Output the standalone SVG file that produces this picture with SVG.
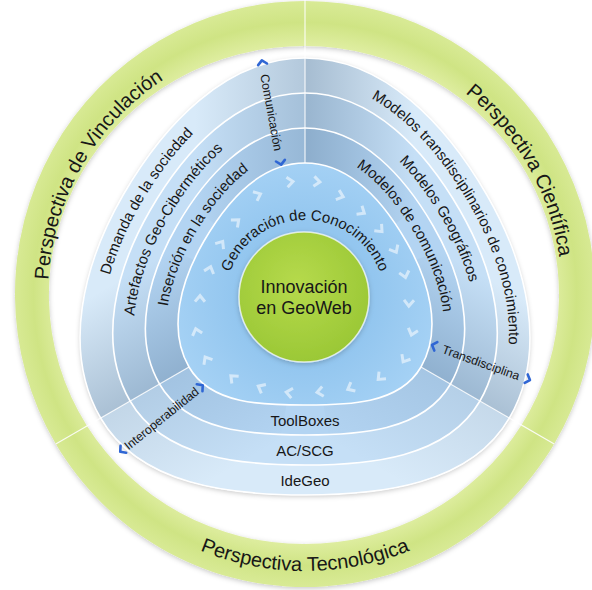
<svg xmlns="http://www.w3.org/2000/svg" width="592" height="590" viewBox="0 0 592 590">
<defs>
<style>
.t{font-family:"Liberation Sans",Arial,sans-serif;fill:#171717}
.pr{font-size:20px}
.bd{font-size:15px}
.lb{font-size:12.3px}
.cr{font-size:18px}
.dv{stroke:#fff;stroke-opacity:.85;stroke-width:1.2;fill:none}
.ah{fill:none;stroke:#2f66d4;stroke-width:2.6;stroke-linecap:round;stroke-linejoin:round}
.bs{fill:none;stroke:#fff;stroke-width:1.6}
.rg{fill:url(#gRing)}
</style>
<radialGradient id="gRing" gradientUnits="userSpaceOnUse" cx="305" cy="294" r="292">
<stop offset="0.84" stop-color="#e1efa5"/>
<stop offset="0.93" stop-color="#cfe484"/>
<stop offset="1" stop-color="#d8ea95"/>
</radialGradient>
<radialGradient id="gCore" cx="0.45" cy="0.4" r="0.6">
<stop offset="0" stop-color="#b6da4c"/>
<stop offset="1" stop-color="#9bc836"/>
</radialGradient>
<radialGradient id="gIn" gradientUnits="userSpaceOnUse" cx="305" cy="295" r="140">
<stop offset="0.5" stop-color="#93c6ef"/>
<stop offset="1" stop-color="#a6d2f5"/>
</radialGradient>
<linearGradient id="gTop" gradientUnits="userSpaceOnUse" x1="195" y1="0" x2="415" y2="0">
<stop offset="0" stop-color="#3f5f7f" stop-opacity="0"/>
<stop offset="0.5" stop-color="#3f5f7f" stop-opacity="0.24"/>
<stop offset="0.5" stop-color="#3f5f7f" stop-opacity="0.33"/>
<stop offset="1" stop-color="#3f5f7f" stop-opacity="0"/>
</linearGradient>
<linearGradient id="gLL" gradientUnits="userSpaceOnUse" x1="89.8" y1="297.2" x2="199.8" y2="487.8">
<stop offset="0" stop-color="#3f5f7f" stop-opacity="0"/>
<stop offset="0.5" stop-color="#3f5f7f" stop-opacity="0.3"/>
<stop offset="0.5" stop-color="#3f5f7f" stop-opacity="0.14"/>
<stop offset="1" stop-color="#3f5f7f" stop-opacity="0"/>
</linearGradient>
<linearGradient id="gLR" gradientUnits="userSpaceOnUse" x1="520.2" y1="297.2" x2="410.2" y2="487.8">
<stop offset="0" stop-color="#3f5f7f" stop-opacity="0"/>
<stop offset="0.5" stop-color="#3f5f7f" stop-opacity="0.3"/>
<stop offset="0.5" stop-color="#3f5f7f" stop-opacity="0.12"/>
<stop offset="1" stop-color="#3f5f7f" stop-opacity="0"/>
</linearGradient>
<filter id="sh" x="-10%" y="-10%" width="120%" height="120%"><feDropShadow dx="0" dy="1.5" stdDeviation="2.5" flood-color="#000" flood-opacity="0.22"/></filter>
<path id="S3" d="M 305 58 C 384.9 58, 447 125.9, 486.9 195 C 526.8 264.1, 548.4 350.5, 509.4 418 C 470.4 485.5, 379.1 495, 305 495 C 230.9 495, 139.6 485.5, 100.6 418 C 61.6 350.5, 83.2 264.1, 123.1 195 C 163 125.9, 225.1 58, 305 58 Z"/>
<path id="S2" d="M 305 93 C 373.3 93, 426 151.6, 460 210.5 C 494 269.4, 513.3 343.2, 479.9 401 C 446.5 458.8, 367.7 465, 305 465 C 242.3 465, 163.5 458.8, 130.1 401 C 96.7 343.2, 116 269.4, 150 210.5 C 184 151.6, 236.7 93, 305 93 Z"/>
<path id="S1" d="M 305 128 C 361.8 128, 405.1 177.3, 433.2 226 C 461.3 274.7, 478.2 336, 450.5 384 C 422.8 432, 356.3 435, 305 435 C 253.7 435, 187.2 432, 159.5 384 C 131.8 336, 148.7 274.7, 176.8 226 C 204.9 177.3, 248.2 128, 305 128 Z"/>
<path id="S0" d="M 305 163 C 350.2 163, 384.1 203, 406.3 241.5 C 428.5 280, 443.1 328.7, 421 367 C 398.9 405.3, 344.9 405, 305 405 C 265.1 405, 211.1 405.3, 189 367 C 166.9 328.7, 181.5 280, 203.7 241.5 C 225.9 203, 259.8 163, 305 163 Z"/>
<clipPath id="cBand"><use href="#S3"/></clipPath>
<path id="ringCW" d="M 305 551 A 257 257 0 1 1 305 37 A 257 257 0 1 1 305 551"/>
<path id="ringCCW" d="M 305 17 A 277 277 0 1 0 305 571 A 277 277 0 1 0 305 17"/>
<path id="B3" d="M 305 475.8 C 238.3 475.8, 154.9 468.4, 119.5 407.1 C 84.1 345.8, 104.2 267.4, 140.3 204.9 C 176.4 142.4, 232.5 80.4, 305 80.4 C 377.5 80.4, 433.6 142.4, 469.7 204.9 C 505.8 267.4, 525.9 345.8, 490.5 407.1 C 455.1 468.4, 371.7 475.8, 305 475.8 Z"/>
<path id="B2" d="M 305 445.8 C 249.6 445.8, 178.6 441.5, 148.9 390.1 C 119.2 338.7, 136.9 272.7, 167.1 220.4 C 197.3 168.1, 244.1 115.4, 305 115.4 C 365.9 115.4, 412.7 168.1, 442.9 220.4 C 473.1 272.7, 490.8 338.7, 461.1 390.1 C 431.4 441.5, 360.4 445.8, 305 445.8 Z"/>
<path id="B1" d="M 305 415.8 C 261 415.8, 202.5 414.8, 178.4 373.1 C 154.3 331.4, 169.6 278.1, 194 235.9 C 218.4 193.7, 255.6 150.4, 305 150.4 C 354.4 150.4, 391.6 193.7, 416 235.9 C 440.4 278.1, 455.7 331.4, 431.6 373.1 C 407.5 414.8, 349 415.8, 305 415.8 Z"/>
<path id="gen" d="M 305 380 A 80 80 0 1 1 305 220 A 80 80 0 1 1 305 380"/>
<path id="ch" d="M-3.5,-5 L2.5,0 L-3.5,5" fill="none" stroke="#fff" stroke-opacity="0.55" stroke-width="3"/>
</defs>
<rect width="592" height="590" fill="#fff"/>

<g id="ring" filter="url(#sh)">
<g id="p-vinculacion">
<path class="rg" d="M 305 1 A 290 293 0 0 0 55.8 443.9 L 87 425.9 A 255 249 0 0 1 305 46 Z"/>
</g>
<g id="p-cientifica">
<path class="rg" d="M 305 1 A 290 293 0 0 1 554.2 443.9 L 521.5 425 A 255 249 0 0 0 305 46 Z"/>
</g>
<g id="p-tecnologica">
<path class="rg" d="M 55.8 443.9 A 290 293 0 0 0 554.2 443.9 L 521.5 425 A 255 249 0 0 1 87 425.9 Z"/>
</g>
</g>
<text class="t pr"><textPath href="#ringCW" startOffset="33.3%" text-anchor="middle">Perspectiva de Vinculación</textPath></text>
<text class="t pr"><textPath href="#ringCW" startOffset="66.7%" text-anchor="middle">Perspectiva Científica</textPath></text>
<text class="t pr"><textPath href="#ringCCW" startOffset="50%" text-anchor="middle">Perspectiva Tecnológica</textPath></text>

<g id="bands">
<use href="#S3" fill="#d8eaf9" filter="url(#sh)"/>
<use href="#S2" fill="#c5dff6"/>
<use href="#S1" fill="#b3d4f2"/>
<g clip-path="url(#cBand)">
<polygon points="305,300 626.7,30 305,-120 -16.7,30" fill="url(#gTop)"/>
<polygon points="305,300 -89.7,156.4 -58.7,510 232.1,713.6" fill="url(#gLL)"/>
<polygon points="305,300 377.9,713.6 668.7,510 699.7,156.4" fill="url(#gLR)"/>
</g>
<use href="#S3" class="bs"/>
<use href="#S2" class="bs"/>
<use href="#S1" class="bs"/>
</g>

<g id="dividers">
<line class="dv" x1="305" y1="0" x2="305" y2="163"/>
<line class="dv" x1="55.8" y1="443.9" x2="189" y2="367"/>
<line class="dv" x1="554.2" y1="443.9" x2="421" y2="367"/>
</g>

<g id="inner">
<use href="#S0" fill="url(#gIn)" stroke="#fff" stroke-width="1.6"/>
<use href="#ch" transform="translate(290.5,181.9) rotate(-7)"/>
<use href="#ch" transform="translate(317.4,181.7) rotate(6)"/>
<use href="#ch" transform="translate(340.8,196) rotate(19)"/>
<use href="#ch" transform="translate(362.2,211.9) rotate(33)"/>
<use href="#ch" transform="translate(380.3,229.8) rotate(47)"/>
<use href="#ch" transform="translate(395.1,250.1) rotate(61)"/>
<use href="#ch" transform="translate(404.9,275.1) rotate(76)"/>
<use href="#ch" transform="translate(408.9,303.6) rotate(92)"/>
<use href="#ch" transform="translate(412.1,332.7) rotate(107)"/>
<use href="#ch" transform="translate(404.4,359.7) rotate(121)"/>
<use href="#ch" transform="translate(380,377.7) rotate(136)"/>
<use href="#ch" transform="translate(350,388.2) rotate(153)"/>
<use href="#ch" transform="translate(319.5,391.9) rotate(171)"/>
<use href="#ch" transform="translate(288.7,392.6) rotate(190)"/>
<use href="#ch" transform="translate(260.5,387.3) rotate(207)"/>
<use href="#ch" transform="translate(232.7,377.5) rotate(223)"/>
<use href="#ch" transform="translate(206.4,359.2) rotate(239)"/>
<use href="#ch" transform="translate(196.4,331.1) rotate(254)"/>
<use href="#ch" transform="translate(200,298.2) rotate(271)"/>
<use href="#ch" transform="translate(209.9,269.1) rotate(288)"/>
<use href="#ch" transform="translate(221.3,243.5) rotate(304)"/>
<use href="#ch" transform="translate(236.8,221.5) rotate(319)"/>
<use href="#ch" transform="translate(258.2,194.9) rotate(336)"/>
<text class="t bd"><textPath href="#gen" startOffset="50%" text-anchor="middle">Generación de Conocimiento</textPath></text>
</g>

<g id="band-texts">
<text class="t bd"><textPath href="#B3" startOffset="33.5%" text-anchor="middle">Demanda de la sociedad</textPath></text>
<text class="t bd"><textPath href="#B2" startOffset="32.5%" text-anchor="middle">Artefactos Geo-Ciberméticos</textPath></text>
<text class="t bd"><textPath href="#B1" startOffset="33.6%" text-anchor="middle">Inserción en la sociedad</textPath></text>
<text class="t bd"><textPath href="#B3" startOffset="67%" text-anchor="middle">Modelos transdisciplinarios de conocimiento</textPath></text>
<text class="t bd"><textPath href="#B2" startOffset="66.7%" text-anchor="middle">Modelos Geográficos</textPath></text>
<text class="t bd"><textPath href="#B1" startOffset="66.4%" text-anchor="middle">Modelos de comunicación</textPath></text>
<text class="t bd" x="305" y="426" text-anchor="middle">ToolBoxes</text>
<text class="t bd" x="305" y="456" text-anchor="middle">AC/SCG</text>
<text class="t bd" x="305" y="486" text-anchor="middle">IdeGeo</text>
</g>

<g id="core">
<circle cx="304" cy="297" r="65" fill="url(#gCore)" stroke="#fff" stroke-opacity="0.7" stroke-width="1.5" filter="url(#sh)"/>
<text class="t cr" x="304" y="293" text-anchor="middle">Innovación</text>
<text class="t cr" x="304" y="313.5" text-anchor="middle">en GeoWeb</text>
</g>

<g id="connectors">
<g id="comunicacion" transform="translate(271.5,112.5) rotate(79.5)">
<text class="t lb" x="0" y="4.3" text-anchor="middle">Comunicación</text>
<path class="ah" d="M-49,-4.5 L-53,0 L-49,4.5"/>
<path class="ah" d="M49,-4.5 L53,0 L49,4.5"/>
</g>
<g id="interoperabilidad" transform="translate(161.5,418.5) rotate(-38.9)">
<text class="t lb" x="0" y="4.3" text-anchor="middle">Interoperabilidad</text>
<path class="ah" d="M-49,-4.5 L-53,0 L-49,4.5"/>
<path class="ah" d="M49,-4.5 L53,0 L49,4.5"/>
</g>
<g id="transdisciplina" transform="translate(481,362.5) rotate(19.7)">
<text class="t lb" x="0" y="4.3" text-anchor="middle">Transdisciplina</text>
<path class="ah" d="M-48,-4.5 L-52,0 L-48,4.5"/>
<path class="ah" d="M48,-4.5 L52,0 L48,4.5"/>
</g>
</g>
</svg>
